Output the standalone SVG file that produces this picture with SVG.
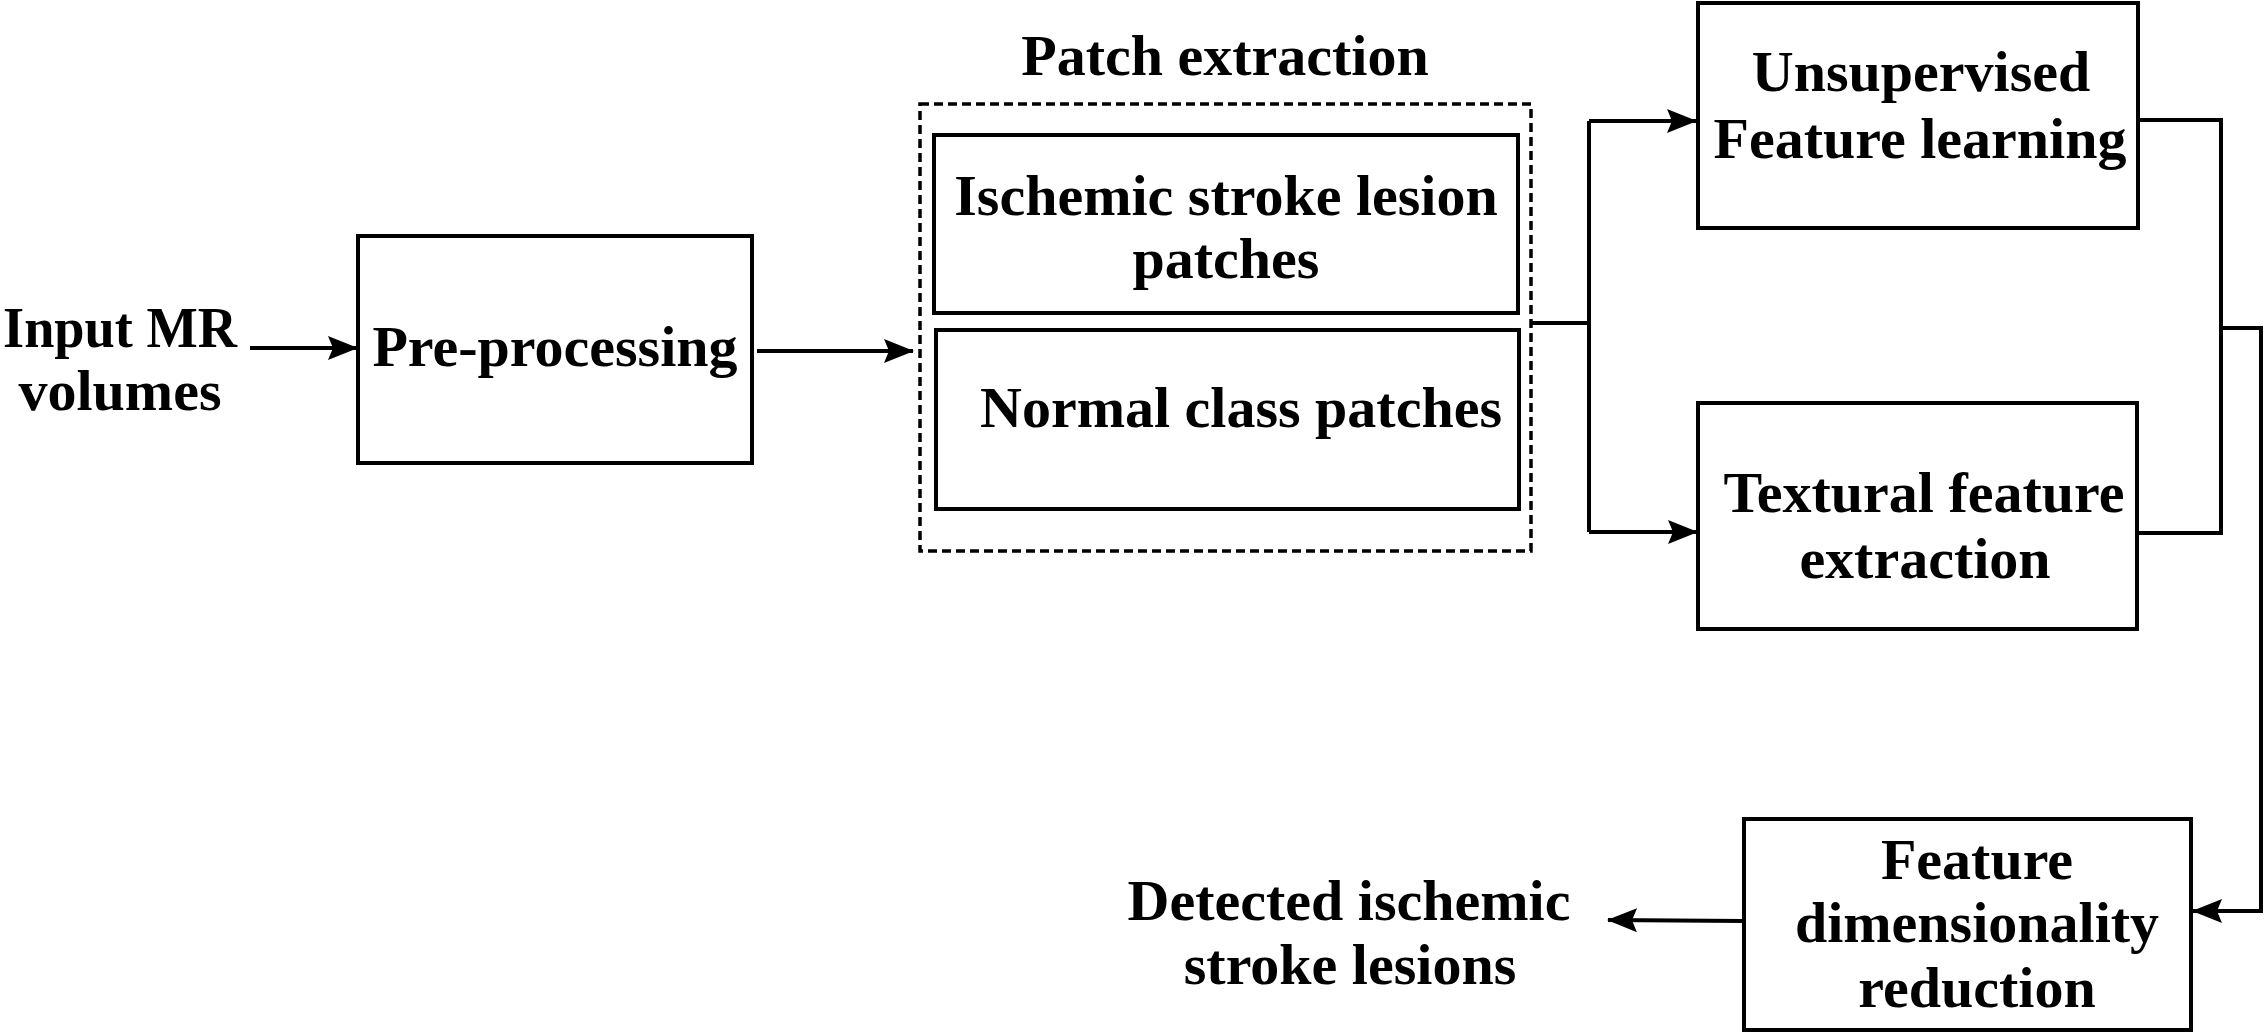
<svg xmlns="http://www.w3.org/2000/svg" width="2266" height="1033" viewBox="0 0 2266 1033">
<style>
.box{fill:#fff;stroke:#000;stroke-width:4}
.dash{fill:none;stroke:#000;stroke-width:3.5;stroke-dasharray:9 5}
.ln{fill:none;stroke:#000;stroke-width:4}
text{font-family:"Liberation Serif","Times New Roman",serif;font-weight:bold;font-size:58px;fill:#000;text-anchor:middle}
</style>
<defs>
<marker id="ah" markerUnits="userSpaceOnUse" markerWidth="30" markerHeight="24" refX="29" refY="12" orient="auto">
<path d="M0,0 L30,12 L0,24 L5,12 z" fill="#000"/>
</marker>
</defs>
<rect width="2266" height="1033" fill="#fff"/>
<g id="input">
<text x="120" y="347" textLength="234" lengthAdjust="spacingAndGlyphs">Input MR</text>
<text x="120" y="410">volumes</text>
</g>
<g id="preprocessing">
<rect class="box" x="358" y="236" width="394" height="227"/>
<text x="555" y="366">Pre-processing</text>
</g>
<g id="patch-extraction">
<text x="1225" y="75">Patch extraction</text>
<rect class="dash" x="920" y="104" width="611" height="447"/>
</g>
<g id="lesion-patches">
<rect class="box" x="934" y="135" width="584" height="178"/>
<text x="1226" y="215">Ischemic stroke lesion</text>
<text x="1226" y="278">patches</text>
</g>
<g id="normal-patches">
<rect class="box" x="936" y="330" width="583" height="179"/>
<text x="1241" y="427">Normal class patches</text>
</g>
<g id="unsupervised">
<rect class="box" x="1698" y="3" width="440" height="225"/>
<text x="1921" y="91">Unsupervised</text>
<text x="1920" y="158">Feature learning</text>
</g>
<g id="textural">
<rect class="box" x="1698" y="403" width="439" height="226"/>
<text x="1924" y="512">Textural feature</text>
<text x="1925" y="578">extraction</text>
</g>
<g id="fdr">
<rect class="box" x="1744" y="819" width="447" height="211"/>
<text x="1977" y="879">Feature</text>
<text x="1977" y="942">dimensionality</text>
<text x="1977" y="1007">reduction</text>
</g>
<g id="output">
<text x="1349" y="920">Detected ischemic</text>
<text x="1350" y="984">stroke lesions</text>
</g>
<g id="connectors">
<line class="ln" x1="250" y1="348" x2="357" y2="348" marker-end="url(#ah)"/>
<line class="ln" x1="757" y1="351" x2="913" y2="351" marker-end="url(#ah)"/>
<polyline class="ln" points="1531,323 1589,323"/>
<polyline class="ln" points="1589,121 1589,532"/>
<line class="ln" x1="1589" y1="121" x2="1696" y2="121" marker-end="url(#ah)"/>
<line class="ln" x1="1589" y1="532" x2="1697" y2="532" marker-end="url(#ah)"/>
<polyline class="ln" points="2138,120 2221,120 2221,533 2137,533"/>
<polyline class="ln" points="2221,328 2261,328 2261,911 2193,911" marker-end="url(#ah)"/>
<line class="ln" x1="1743" y1="921" x2="1608" y2="920" marker-end="url(#ah)"/>
</g>
</svg>
